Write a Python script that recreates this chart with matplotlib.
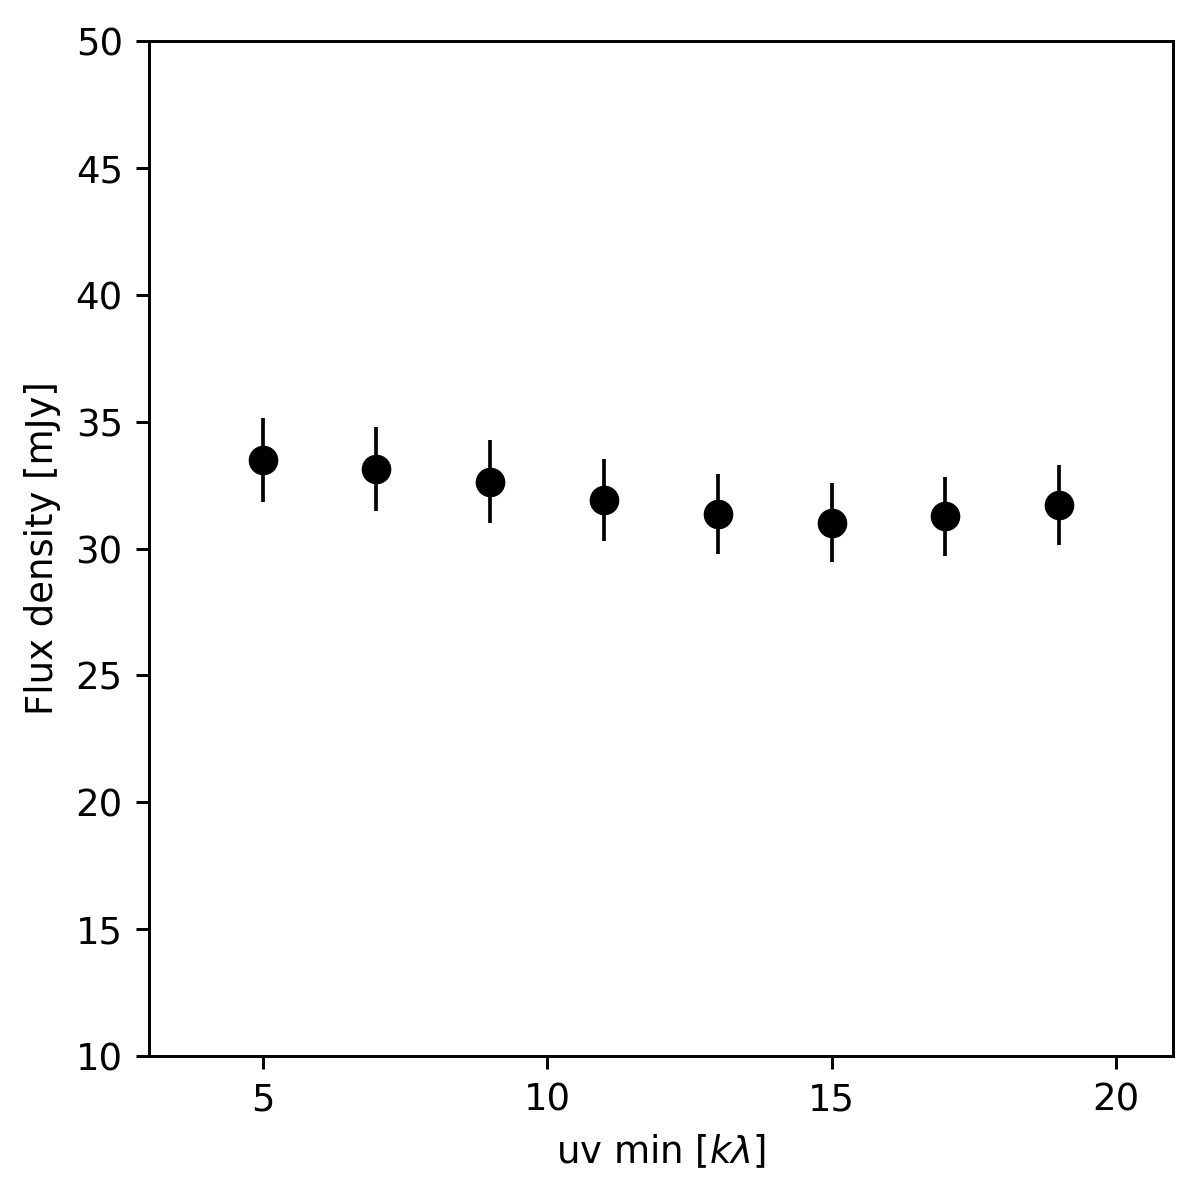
import matplotlib
matplotlib.use("Agg")
import matplotlib.pyplot as plt

uv_min = [5, 7, 9, 11, 13, 15, 17, 19]
flux = [33.49, 33.13, 32.64, 31.92, 31.37, 31.02, 31.27, 31.72]
flux_err = [1.65, 1.65, 1.63, 1.61, 1.58, 1.56, 1.56, 1.57]

DPI = 1200 / 4.5
fig = plt.figure(figsize=(4.5, 1197 / DPI), dpi=DPI)
ax = fig.add_axes([0.124, 0.1178, 0.8535, 0.8479])
ax.errorbar(uv_min, flux, yerr=flux_err, fmt='o', color='black',
            markersize=7, elinewidth=1.0)
ax.set_xlim(3, 21)
ax.set_ylim(10, 50)
ax.set_xticks([5, 10, 15, 20])
ax.set_xlabel(r'uv min [$k\lambda$]')
ax.set_ylabel('Flux density [mJy]')
fig.savefig('out.png', dpi=DPI)
